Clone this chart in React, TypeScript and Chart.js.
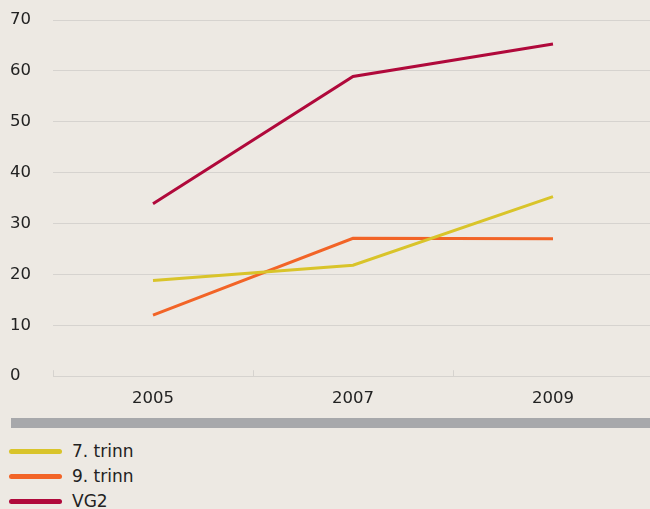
import React, { useEffect, useRef } from "react";
import { Chart, registerables } from "chart.js";

Chart.register(...registerables);

const years = ["2005", "2007", "2009"];
const trinn7 = [18.8, 21.8, 35.3];
const trinn9 = [12.0, 27.1, 27.0];
const vg2 = [33.9, 58.9, 65.3];
const seriesNames = ["7. trinn", "9. trinn", "VG2"];
const seriesColors = ["#d9c42a", "#f26427", "#b0093b"];
const yTicks = [0, 10, 20, 30, 40, 50, 60, 70];

const BG = "#ede9e3";
const GRID = "#d6d3cf";
const TEXT = "#222222";
const FONT = "'DejaVu Sans', sans-serif";

const tickMarks = {
  id: "tickMarks",
  afterDatasetsDraw(chart: any) {
    const x = chart.scales.x;
    const ctx = chart.ctx;
    const bottom = chart.chartArea.bottom;
    const half = (x.getPixelForValue(1) - x.getPixelForValue(0)) / 2;
    ctx.save();
    ctx.strokeStyle = GRID;
    ctx.lineWidth = 1;
    for (let i = 0; i <= years.length; i++) {
      const px = Math.round(x.getPixelForValue(0) - half + i * half * 2) + 0.5;
      ctx.beginPath();
      ctx.moveTo(px, bottom);
      ctx.lineTo(px, bottom - 6);
      ctx.stroke();
    }
    ctx.restore();
  },
};

export default function App() {
  const ref = useRef<HTMLCanvasElement>(null);
  useEffect(() => {
    if (!ref.current) return;
    const data = [trinn7, trinn9, vg2];
    const chart = new Chart(ref.current, {
      type: "line",
      data: {
        labels: years,
        datasets: data.map((d, i) => ({
          label: seriesNames[i],
          data: d,
          borderColor: seriesColors[i],
          backgroundColor: seriesColors[i],
          borderWidth: 3,
          pointRadius: 0,
          tension: 0,
          fill: false,
        })),
      },
      options: {
        responsive: false,
        animation: false,
        devicePixelRatio: 1,
        layout: { padding: { left: 10, top: 20, right: 0, bottom: 0 } },
        plugins: { legend: { display: false }, tooltip: { enabled: false } },
        scales: {
          x: {
            offset: true,
            grid: { display: false },
            border: { display: true, color: GRID, width: 1 },
            ticks: { color: TEXT, font: { family: FONT, size: 16.5 }, padding: 5 },
          },
          y: {
            min: 0,
            max: 70,
            afterFit: (s: any) => {
              s.width = 43;
            },
            afterBuildTicks: (s: any) => {
              s.ticks = yTicks.map((v) => ({ value: v }));
            },
            grid: { color: GRID, lineWidth: 1, drawTicks: false },
            border: { display: false },
            ticks: {
              color: TEXT,
              crossAlign: "far",
              font: { family: FONT, size: 16.5 },
              padding: 0,
            },
          },
        },
      },
      plugins: [tickMarks],
    });
    return () => chart.destroy();
  }, []);

  return (
    <div
      style={{
        position: "absolute",
        left: 0,
        top: 0,
        width: 650,
        height: 509,
        overflow: "hidden",
        background: BG,
        fontFamily: FONT,
      }}
    >
      <canvas ref={ref} width={653} height={414} style={{ position: "absolute", left: 0, top: 0 }} />
      <div
        style={{
          position: "absolute",
          left: 11,
          top: 418,
          width: 639,
          height: 10,
          background: "#a7a8ab",
        }}
      />
      {seriesNames.map((n, i) => (
        <div
          key={n}
          style={{
            position: "absolute",
            left: 9,
            top: 440 + i * 25,
            height: 22,
            display: "flex",
            alignItems: "center",
          }}
        >
          <div
            style={{
              width: 53,
              height: 5,
              borderRadius: 3,
              background: seriesColors[i],
            }}
          />
          <span style={{ marginLeft: 10, fontSize: 17, color: TEXT, lineHeight: "22px" }}>{n}</span>
        </div>
      ))}
    </div>
  );
}
